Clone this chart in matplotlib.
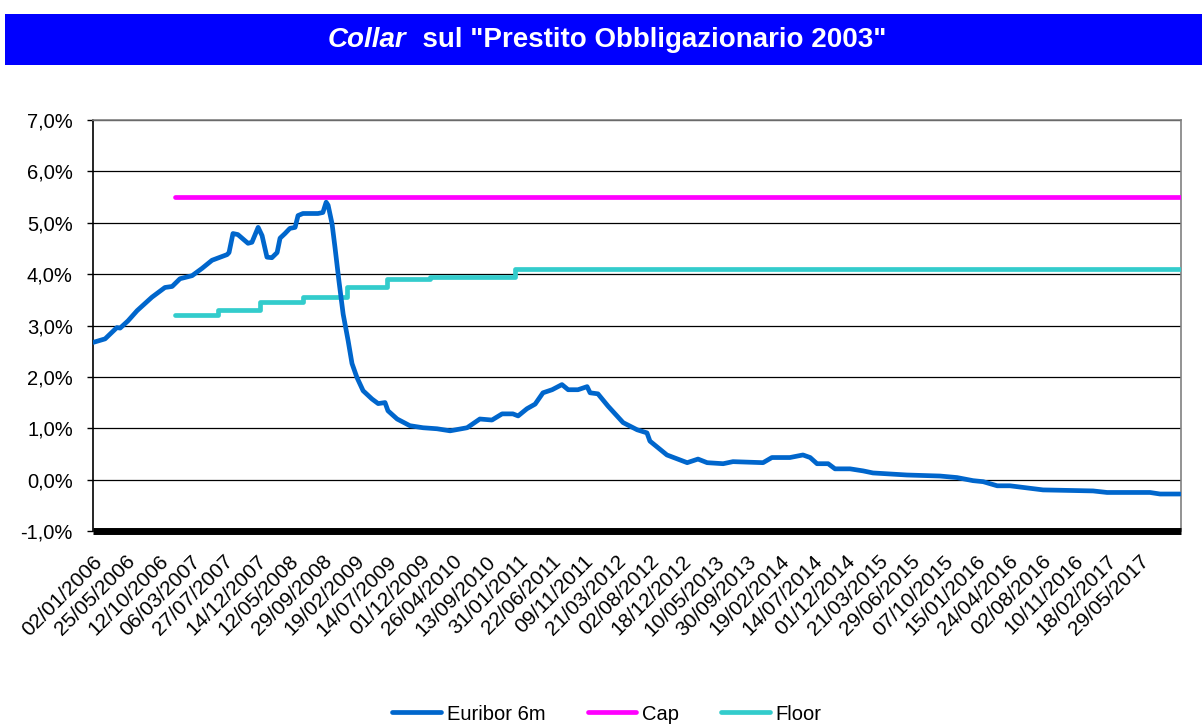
import matplotlib
matplotlib.use("Agg")
import matplotlib.pyplot as plt
from matplotlib.patches import Rectangle
from matplotlib.ticker import FuncFormatter, MultipleLocator

plt.rcParams["font.family"] = ["Liberation Sans", "DejaVu Sans"]

# x is the category position in units of one tick-label step
tick_labels = [
    "02/01/2006", "25/05/2006", "12/10/2006", "06/03/2007", "27/07/2007",
    "14/12/2007", "12/05/2008", "29/09/2008", "19/02/2009", "14/07/2009",
    "01/12/2009", "26/04/2010", "13/09/2010", "31/01/2011", "22/06/2011",
    "09/11/2011", "21/03/2012", "02/08/2012", "18/12/2012", "10/05/2013",
    "30/09/2013", "19/02/2014", "14/07/2014", "01/12/2014", "21/03/2015",
    "29/06/2015", "07/10/2015", "15/01/2016", "24/04/2016", "02/08/2016",
    "10/11/2016", "18/02/2017", "29/05/2017",
]

euribor_x = [
    0.00, 0.37, 0.73, 0.83, 1.07, 1.35, 1.80, 2.20, 2.42, 2.66, 3.03, 3.33,
    3.64, 4.10, 4.16, 4.28, 4.43, 4.74, 4.86, 5.05, 5.17, 5.32, 5.47, 5.63,
    5.72, 5.87, 6.02, 6.18, 6.27, 6.42, 6.88, 7.03, 7.13, 7.19, 7.31, 7.40,
    7.52, 7.65, 7.80, 7.92, 8.07, 8.26, 8.53, 8.72, 8.93, 9.02, 9.30, 9.69,
    10.09, 10.52, 10.92, 11.44, 11.83, 12.20, 12.51, 12.84, 13.00, 13.27,
    13.52, 13.76, 14.04, 14.34, 14.53, 14.83, 15.11, 15.20, 15.44, 15.75,
    16.21, 16.64, 16.94, 17.03, 17.55, 18.17, 18.50, 18.78, 19.27, 19.57,
    20.49, 20.76, 21.31, 21.71, 21.93, 22.14, 22.48, 22.69, 23.15, 23.55,
    23.85, 24.37, 24.89, 25.90, 26.42, 26.91, 27.22, 27.65, 28.04, 29.05,
    30.58, 31.01, 32.32, 32.63, 33.24,
]
euribor_y = [
    2.67, 2.74, 2.96, 2.95, 3.09, 3.29, 3.55, 3.74, 3.76, 3.91, 3.97, 4.11,
    4.27, 4.38, 4.42, 4.79, 4.77, 4.60, 4.62, 4.91, 4.75, 4.33, 4.32, 4.42,
    4.70, 4.79, 4.89, 4.91, 5.14, 5.18, 5.18, 5.20, 5.40, 5.34, 4.98, 4.52,
    3.87, 3.22, 2.71, 2.26, 1.99, 1.73, 1.57, 1.48, 1.50, 1.34, 1.18, 1.05,
    1.01, 0.99, 0.95, 1.01, 1.18, 1.16, 1.28, 1.28, 1.24, 1.38,
    1.47, 1.69, 1.75, 1.85, 1.75, 1.75, 1.81, 1.69, 1.67, 1.43,
    1.11, 0.97, 0.91, 0.75, 0.48, 0.33, 0.40, 0.33, 0.31, 0.35,
    0.33, 0.43, 0.43, 0.48, 0.43, 0.31, 0.31, 0.21, 0.21, 0.17,
    0.13, 0.11, 0.09, 0.07, 0.04, -0.02, -0.04, -0.12, -0.12, -0.20,
    -0.22, -0.25, -0.25, -0.28, -0.28,
]

cap_x = [2.51, 33.27]
cap_y = [5.5, 5.5]

floor_x = [2.51, 3.82, 5.11, 6.42, 7.77, 8.99, 10.31, 12.91, 33.27]
floor_y = [3.2, 3.3, 3.45, 3.55, 3.75, 3.9, 3.95, 4.1, 4.1]

W, H = 1202, 724
fig = plt.figure(figsize=(W / 100, H / 100), dpi=100)
fig.patch.set_facecolor("white")

# blue title band
fig.patches.append(Rectangle((5 / W, 1 - 65 / H), 1 - 5 / W, 51 / H,
                             transform=fig.transFigure, facecolor="#0000FF",
                             edgecolor="none", zorder=0))

ax = fig.add_axes([93 / W, 1 - 531 / H, (1181 - 93) / W, (531 - 120) / H])

for side in ("top", "right"):
    ax.spines[side].set_color("#808080")
    ax.spines[side].set_linewidth(1.2)
ax.spines["left"].set_color("black")
ax.spines["left"].set_linewidth(1.2)
ax.spines["bottom"].set_color("black")
ax.spines["bottom"].set_linewidth(5)
ax.spines["bottom"].set_capstyle("butt")

lw = 3.4
ax.plot(euribor_x, euribor_y, color="#0066CC", lw=lw, label="Euribor 6m",
        solid_capstyle="round", solid_joinstyle="round", zorder=4)
ax.plot(cap_x, cap_y, color="#FF00FF", lw=lw, label="Cap",
        solid_capstyle="round", zorder=3)
ax.plot(floor_x, floor_y, color="#33CCCC", lw=lw, label="Floor",
        drawstyle="steps-post", solid_capstyle="round", zorder=3)

ax.set_xlim(0, 33.27)
ax.set_ylim(-1, 7)
ax.yaxis.set_major_locator(MultipleLocator(1))
ax.yaxis.set_major_formatter(FuncFormatter(lambda v, p: f"{v:.1f}%".replace(".", ",")))
ax.grid(axis="y", color="black", lw=0.9, zorder=1)
ax.set_axisbelow(True)

ax.set_xticks(range(len(tick_labels)))
ax.set_xticklabels(tick_labels, rotation=45, ha="right", va="top",
                   rotation_mode="anchor")
ax.tick_params(axis="x", length=0, pad=15, labelsize=15)
ax.tick_params(axis="y", length=4.5, width=1, pad=10, labelsize=14.5, direction="out")

# title: italic "Collar" followed by bold text, centred as a whole
fig.canvas.draw()
r = fig.canvas.get_renderer()
ty = 1 - 40 / H
t1 = fig.text(0, ty, "Collar", color="white", fontsize=20, fontweight="bold",
              fontstyle="italic", va="center", ha="left")
t2 = fig.text(0, ty, '  sul "Prestito Obbligazionario 2003"', color="white",
              fontsize=20, fontweight="bold", va="center", ha="left")
w1 = t1.get_window_extent(r).width
w2 = t2.get_window_extent(r).width
x0 = 607 - (w1 + w2) / 2
t1.set_x(x0 / W)
t2.set_x((x0 + w1) / W)

fig.legend(loc="center", bbox_to_anchor=(607 / W, 10 / H), ncol=3,
           frameon=False, fontsize=14.5, handlelength=2.4, handletextpad=0.3,
           columnspacing=2.1)

fig.savefig("out.png", dpi=100, facecolor="white")
